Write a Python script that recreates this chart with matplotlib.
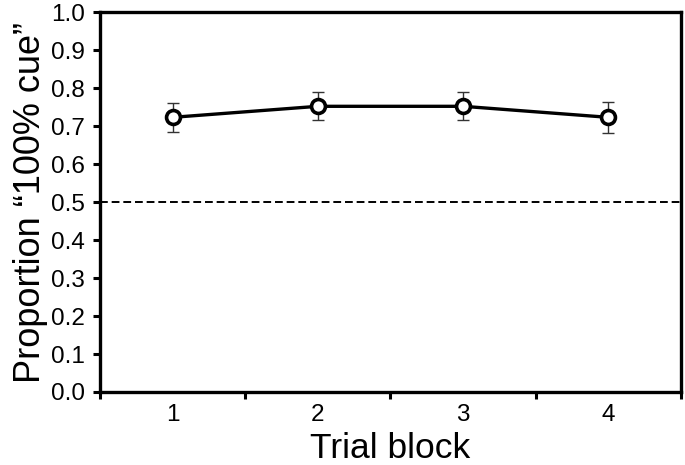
import matplotlib
matplotlib.use("Agg")
import matplotlib.pyplot as plt
import numpy as np

plt.rcParams['font.family'] = ['Liberation Sans', 'DejaVu Sans']

blocks = [1, 2, 3, 4]
proportion = [0.723, 0.752, 0.752, 0.723]
sem = [0.039, 0.037, 0.037, 0.040]
chance = 0.5

fig = plt.figure(figsize=(6.85, 4.65), dpi=100)
ax = fig.add_axes([0.146, 0.157, 0.848, 0.817])

ax.axhline(chance, color='black', lw=1.4, ls=(0, (4, 2)), zorder=1)
ax.errorbar(blocks, proportion, yerr=sem, fmt='none', ecolor='#333333',
            elinewidth=1.0, capsize=4, capthick=1.0, zorder=2)
ax.plot(blocks, proportion, color='black', lw=2.4, marker='o', ms=10,
        mfc='white', mec='black', mew=2.6, zorder=3)

ax.set_xlim(0.5, 4.5)
ax.set_ylim(0, 1.0)
ax.set_yticks(np.arange(0, 1.01, 0.1))
ax.set_yticklabels([f"{v:.1f}" for v in np.arange(0, 1.01, 0.1)])

# ticks sit between blocks, labels at the block centres
ax.set_xticks([0.5, 1.5, 2.5, 3.5, 4.5])
ax.set_xticklabels([])
ax.set_xticks(blocks, minor=True)
ax.set_xticklabels([str(b) for b in blocks], minor=True)
ax.tick_params(axis='x', which='minor', length=0, pad=9, labelsize=17.5)
ax.tick_params(axis='x', which='major', length=5, width=2.2, direction='out')
ax.tick_params(axis='y', length=5, width=2.2, direction='out', pad=6, labelsize=17.5)

for s in ax.spines.values():
    s.set_linewidth(2.4)

ax.set_xlabel("Trial block", fontsize=25.5, labelpad=4)
ax.set_ylabel("Proportion \u201c100% cue\u201d", fontsize=26, labelpad=2)

fig.savefig("out.png", dpi=100)
